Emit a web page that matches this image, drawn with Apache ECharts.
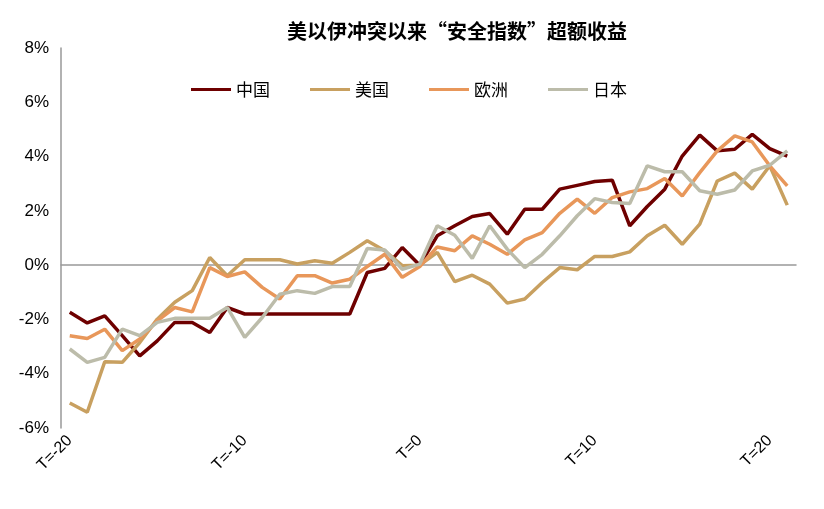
<!DOCTYPE html>
<html><head><meta charset="utf-8">
<script src="https://cdn.jsdelivr.net/npm/echarts@6/dist/echarts.min.js"></script>
<style>html,body{margin:0;padding:0;background:#fff}#c{width:824px;height:509px}</style>
</head><body><div id="c"></div>
<script>
const categories = [];
for (let t = -20; t <= 21; t++) categories.push('T=' + t);
const china = [-1.74,-2.13,-1.87,-2.6,-3.34,-2.79,-2.11,-2.11,-2.48,-1.56,-1.8,-1.8,-1.8,-1.8,-1.8,-1.8,-1.8,-0.27,-0.12,0.65,0,1.08,1.45,1.79,1.9,1.14,2.06,2.06,2.8,2.94,3.08,3.13,1.45,2.16,2.8,4.02,4.79,4.21,4.27,4.82,4.29,4.02];
const usa = [-5.08,-5.42,-3.56,-3.58,-2.85,-1.99,-1.37,-0.94,0.28,-0.39,0.2,0.2,0.2,0.04,0.16,0.07,0.47,0.9,0.53,-0.02,0,0.47,-0.61,-0.37,-0.7,-1.4,-1.25,-0.64,-0.09,-0.17,0.32,0.32,0.49,1.08,1.47,0.77,1.51,3.1,3.39,2.8,3.66,2.21];
const europe = [-2.6,-2.7,-2.36,-3.15,-2.72,-2.05,-1.56,-1.72,-0.09,-0.42,-0.25,-0.82,-1.25,-0.39,-0.39,-0.66,-0.52,-0.05,0.4,-0.45,-0.05,0.67,0.53,1.08,0.77,0.4,0.93,1.2,1.91,2.43,1.91,2.49,2.7,2.82,3.19,2.55,3.41,4.21,4.76,4.54,3.66,2.92];
const japan = [-3.09,-3.58,-3.4,-2.36,-2.6,-2.11,-1.96,-1.96,-1.96,-1.56,-2.66,-1.93,-1.07,-0.94,-1.04,-0.79,-0.79,0.61,0.56,-0.15,0.04,1.45,1.1,0.25,1.45,0.59,-0.09,0.4,1.08,1.82,2.45,2.31,2.27,3.66,3.44,3.44,2.74,2.61,2.77,3.47,3.68,4.21];
const names = ['中国','美国','欧洲','日本'];
const colors = ['#6e0000','#c8a060','#e8975a','#bcbcaa'];
const values = [china, usa, europe, japan];
const font = 'Liberation Sans, Noto Sans CJK SC, sans-serif';
const chart = echarts.init(document.getElementById('c'));
chart.setOption({
  animation: false,
  title: { text: '美以伊冲突以来“安全指数”超额收益', left: 452, top: 16, textAlign: 'center',
    textStyle: { fontSize: 20, fontWeight: 'bold', color: '#000', fontFamily: 'Noto Sans CJK SC' } },
  legend: { top: 76, left: 186, itemGap: 40, itemWidth: 40, itemHeight: 3, icon: 'rect',
    textStyle: { fontSize: 17, color: '#000', fontFamily: 'Noto Sans CJK SC' },
    data: names },
  grid: { left: 61, right: 28, top: 48, bottom: 81, outerBoundsMode: 'none', containLabel: false },
  xAxis: [
    { type: 'category', data: categories, boundaryGap: true,
      axisLine: { onZero: true, lineStyle: { color: '#999', width: 1.5 } },
      axisTick: { interval: 9, length: 6, lineStyle: { color: '#999' } },
      axisLabel: { show: false } },
    { type: 'category', data: categories, boundaryGap: true, position: 'bottom',
      axisLine: { show: false, onZero: false }, axisTick: { show: false },
      axisLabel: { interval: 9, rotate: 45, color: '#000', fontSize: 16, fontFamily: font, margin: 10 } }
  ],
  yAxis: { type: 'value', min: -6, max: 8, interval: 2,
    axisLine: { show: true, lineStyle: { color: '#999', width: 1.5 } },
    axisTick: { show: false }, splitLine: { show: false },
    axisLabel: { formatter: '{value}%', color: '#000', fontSize: 17, fontFamily: font, margin: 12 } },
  series: names.map((n, i) => ({ name: n, type: 'line', data: values[i], symbol: 'none', xAxisIndex: 0,
    lineStyle: { color: colors[i], width: 3.5 }, itemStyle: { color: colors[i] } }))
});
</script></body></html>
